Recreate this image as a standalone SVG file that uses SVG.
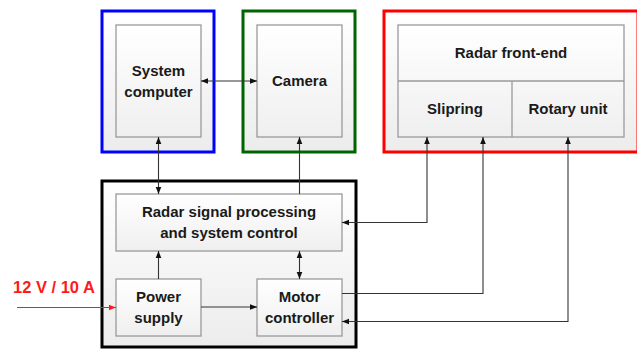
<svg xmlns="http://www.w3.org/2000/svg" width="637" height="350" viewBox="0 0 637 350">
<defs>
<linearGradient id="gOuter" x1="0" y1="0" x2="0" y2="1">
<stop offset="0" stop-color="#ffffff"/><stop offset="1" stop-color="#ececec"/>
</linearGradient>
<linearGradient id="gInner" x1="0" y1="0" x2="0" y2="1">
<stop offset="0" stop-color="#ffffff"/><stop offset="1" stop-color="#efefef"/>
</linearGradient>
<marker id="ah" viewBox="0 0 10 10" refX="10" refY="5" markerWidth="7" markerHeight="7" markerUnits="userSpaceOnUse" orient="auto-start-reverse">
<path d="M0,1 L10,5 L0,9 z" fill="#111"/>
</marker>
<marker id="ahr" viewBox="0 0 10 10" refX="10" refY="5" markerWidth="7" markerHeight="7" markerUnits="userSpaceOnUse" orient="auto">
<path d="M0,1 L10,5 L0,9 z" fill="#ff1a1a"/>
</marker>
</defs>
<style>
.outer{fill:url(#gOuter);stroke-width:3}
.inner{fill:url(#gInner);stroke:#9a9a9a;stroke-width:1.3}
.t{font-family:"Liberation Sans",Arial,sans-serif;font-weight:bold;font-size:15px;fill:#1a1a1a;text-anchor:middle}
.c{fill:none;stroke:#333;stroke-width:1.1}
</style>
<rect width="637" height="350" fill="#ffffff"/>

<g id="system-computer">
<rect class="outer" x="102" y="11" width="112" height="141" stroke="#0000ff"/>
<rect class="inner" x="116" y="25" width="85" height="112"/>
<text class="t" x="158.5" y="76">System</text>
<text class="t" x="158.5" y="97">computer</text>
</g>

<g id="camera">
<rect class="outer" x="243" y="11" width="112" height="141" stroke="#006400"/>
<rect class="inner" x="257" y="25" width="85" height="112"/>
<text class="t" x="299.5" y="86">Camera</text>
</g>

<g id="radar-front-end">
<rect class="outer" x="384" y="11" width="254" height="141" stroke="#ff0000"/>
<rect class="inner" x="398" y="25" width="226" height="112"/>
<line x1="398" y1="81" x2="624" y2="81" stroke="#9a9a9a" stroke-width="1.3"/>
<line x1="512" y1="81" x2="512" y2="137" stroke="#9a9a9a" stroke-width="1.3"/>
<text class="t" x="511" y="58">Radar front-end</text>
<text class="t" x="455" y="114">Slipring</text>
<text class="t" x="568" y="114">Rotary unit</text>
</g>

<g id="main-unit">
<rect class="outer" x="102" y="181" width="254" height="166" stroke="#000000"/>
</g>

<g id="radar-signal-processing">
<rect class="inner" x="116" y="194" width="226" height="57"/>
<text class="t" x="229" y="217">Radar signal processing</text>
<text class="t" x="229" y="238">and system control</text>
</g>

<g id="power-supply">
<rect class="inner" x="116" y="279" width="85" height="57"/>
<text class="t" x="158.5" y="302">Power</text>
<text class="t" x="158.5" y="323">supply</text>
</g>

<g id="motor-controller">
<rect class="inner" x="257" y="279" width="85" height="57"/>
<text class="t" x="299.5" y="302">Motor</text>
<text class="t" x="299.5" y="323">controller</text>
</g>

<g id="input-label">
<text x="13" y="293" font-family="Liberation Sans,Arial,sans-serif" font-weight="bold" font-size="16.5" fill="#ff1a1a">12 V / 10 A</text>
</g>

<g id="connectors">
<line class="c" x1="201" y1="81" x2="257" y2="81" marker-start="url(#ah)" marker-end="url(#ah)"/>
<line class="c" x1="158.5" y1="137" x2="158.5" y2="194" marker-start="url(#ah)" marker-end="url(#ah)"/>
<line class="c" x1="299.5" y1="194" x2="299.5" y2="137" marker-end="url(#ah)"/>
<line class="c" x1="158.5" y1="279" x2="158.5" y2="251" marker-end="url(#ah)"/>
<line class="c" x1="299.5" y1="251" x2="299.5" y2="279" marker-start="url(#ah)" marker-end="url(#ah)"/>
<line class="c" x1="201" y1="307" x2="257" y2="307" marker-end="url(#ah)"/>
<line x1="17" y1="307.5" x2="116" y2="307.5" stroke="#ff1a1a" stroke-width="1.1" marker-end="url(#ahr)"/>
<polyline class="c" points="342,222.5 427,222.5 427,137" marker-start="url(#ah)" marker-end="url(#ah)"/>
<polyline class="c" points="342,293.5 483,293.5 483,137" marker-end="url(#ah)"/>
<polyline class="c" points="568,137 568,321.5 342,321.5" marker-start="url(#ah)" marker-end="url(#ah)"/>
</g>
</svg>
